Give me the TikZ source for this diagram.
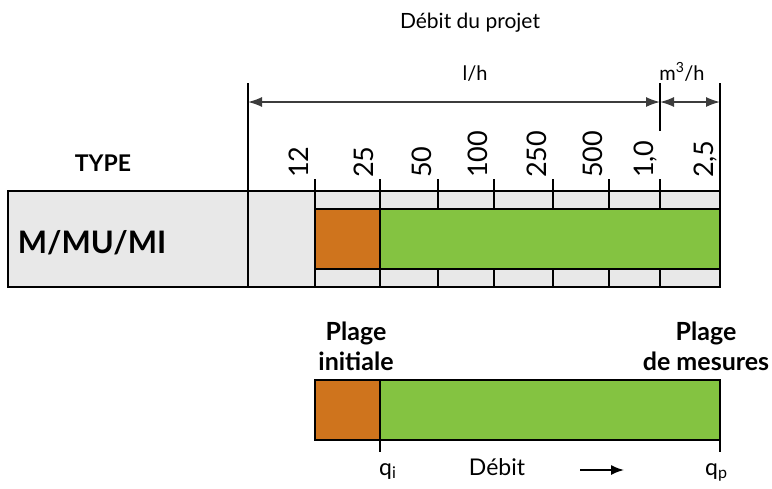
\documentclass[tikz,border=0pt]{standalone}
\usepackage{fontspec}
\setmainfont{Lato}
\usepackage{tikz}
\usetikzlibrary{positioning,calc,arrows.meta}
\definecolor{tableGray}{HTML}{E8E8E8}
\definecolor{startOrange}{HTML}{CF741D}
\definecolor{rangeGreen}{HTML}{84C341}
\definecolor{lineGray}{HTML}{3C3C3C}
\tikzset{
  frameLine/.style={
    draw=black,
    line width=2.4pt
  },
  gridLine/.style={
    draw=black,
    line width=1.2pt
  },
  dimLine/.style={
    {Latex[length=14pt,width=10pt]}-{Latex[length=14pt,width=10pt]},
    draw=lineGray,
    line width=1.5pt
  },
  flowArrow/.style={
    -{Latex[length=13pt,width=10pt]},
    line width=1.6pt
  },
  startBar/.style={
    rectangle,
    draw=black,
    line width=1.4pt,
    fill=startOrange,
    minimum width=65pt,
    minimum height=60pt,
    inner sep=0pt,
    outer sep=0pt
  },
  rangeBar/.style={
    rectangle,
    draw=black,
    line width=1.4pt,
    fill=rangeGreen,
    minimum width=340pt,
    minimum height=60pt,
    inner sep=0pt,
    outer sep=0pt
  },
  scaleLabel/.style={
    rotate=90,
    anchor=base west,
    inner sep=0pt,
    font=\fontsize{27}{27}\selectfont
  },
  unitLabel/.style={
    anchor=base,
    inner sep=0pt,
    font=\fontsize{20}{24}\selectfont
  },
  flowLabel/.style={
    anchor=base,
    inner sep=0pt,
    font=\fontsize{23}{27}\selectfont
  },
  plainText/.style={
    anchor=base,
    inner sep=0pt,
    font=\fontsize{21}{25}\selectfont
  },
  headText/.style={
    anchor=base,
    inner sep=0pt,
    font=\bfseries\fontsize{23}{28}\selectfont
  },
  modelText/.style={
    anchor=base,
    inner sep=0pt,
    font=\bfseries\fontsize{31}{36}\selectfont
  },
  rangeTitle/.style={
    anchor=south,
    inner sep=0pt,
    align=center,
    font=\bfseries\fontsize{25}{30}\selectfont
  }
}
\begin{document}
\begin{tikzpicture}[x=1pt,y=-1pt]
  \useasboundingbox (0,0) rectangle (772,488);

  \node[plainText] (flowTitle) at (470,28) {Débit du projet};

  % table with scale
  \fill[tableGray] (8,191) rectangle (720,287);
  \foreach \cx in {315,380,438,494,553,609,660}
    \draw[gridLine] (\cx,179) -- (\cx,287);
  \draw[frameLine] (8,191) rectangle (720,287);
  \draw[frameLine] (248,83) -- (248,287);
  \draw[frameLine] (720,83) -- (720,287);
  \draw[gridLine] (660,83) -- (660,131);

  \coordinate (dimStart) at (248,102);
  \coordinate (dimMid) at (660,102);
  \coordinate (dimEnd) at (720,102);
  \draw[dimLine] (dimStart) -- (dimMid);
  \draw[dimLine] (dimMid) -- (dimEnd);
  \node[unitLabel] (lhUnit) at (475,80) {l/h};
  \node[unitLabel] (cubicUnit) at (682,80) {m\textsuperscript{3}/h};

  \foreach \cx/\lab [count=\k] in {315/12, 380/25, 438/50, 494/100, 553/250, 609/500, 660/{1,0}, 720/{2,5}}
    \node[scaleLabel] (scale\k) at ({\cx-6.5},178) {\lab};

  \node[headText] (typeHead) at (103,171) {TYPE};
  \node[modelText] (modelName) at (92,253) {M/MU/MI};

  \node[startBar, anchor=north west] (startTop) at (315,209) {};
  \node[rangeBar, right=0pt of startTop] (rangeTop) {};

  % legend bar
  \node[startBar, anchor=north west] (startLow) at (315,380) {};
  \node[rangeBar, right=0pt of startLow] (rangeLow) {};
  \node[rangeTitle] (startTitle) at (356,371) {Plage\\initiale};
  \node[rangeTitle] (rangeTitle) at (706,371) {Plage\\de mesures};

  \draw[gridLine] (rangeLow.south west) -- ++(0,12) coordinate (qiTick);
  \draw[gridLine] (rangeLow.south east) -- ++(0,12) coordinate (qpTick);
  \node[flowLabel, anchor=base west] (qiText) at (379,475) {q\textsubscript{i}};
  \node[flowLabel] (flowText) at (497,475) {Débit};
  \node[flowLabel, anchor=base west] (qpText) at (705,475) {q\textsubscript{p}};
  \coordinate (flowFrom) at (580,470);
  \coordinate (flowTo) at (624,470);
  \draw[flowArrow] (flowFrom) -- (flowTo);
\end{tikzpicture}
\end{document}
